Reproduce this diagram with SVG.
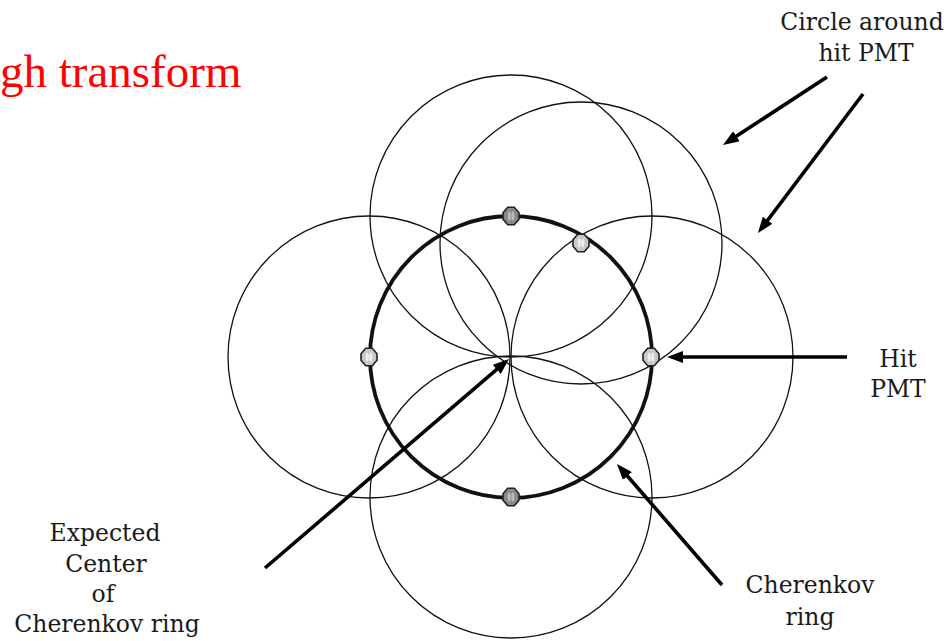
<svg xmlns="http://www.w3.org/2000/svg" xmlns:xlink="http://www.w3.org/1999/xlink" width="950" height="641" viewBox="0 0 950 641">
<style>
  .thin { fill: none; stroke: #111; stroke-width: 1.3; }
  .ring { fill: none; stroke: #111; stroke-width: 3.8; }
  .arrow { fill: none; stroke: #000; stroke-width: 3.6; marker-end: url(#ah); }
  .lbl { font-family: "DejaVu Serif", "Liberation Serif", serif; font-size: 23.5px; fill: #1a1a1a; text-anchor: middle; }
  .title { font-family: "Liberation Serif", "Times New Roman", serif; font-size: 47px; fill: #ff0000; text-anchor: start; }
  .pmtbody { stroke: #222; stroke-width: 1.6; }
</style>
<defs>
  <marker id="ah" viewBox="0 0 16 12" markerWidth="16" markerHeight="12" refX="8" refY="6" orient="auto" markerUnits="userSpaceOnUse">
    <path d="M0,0 L16,6 L0,12 z" fill="#000"/>
  </marker>
  <g id="pmtLight">
    <polygon class="pmtbody" fill="#c8c8c8" points="8,3.3 3.3,8.8 -3.3,8.8 -8,3.3 -8,-3.3 -3.3,-8.8 3.3,-8.8 8,-3.3"/>
    <ellipse cx="-1.8" cy="0" rx="1.6" ry="4.5" fill="#eee"/>
    <ellipse cx="1.8" cy="0" rx="1.6" ry="4.5" fill="#eee"/>
  </g>
  <g id="pmtDark">
    <polygon class="pmtbody" fill="#888" points="8,3.3 3.3,8.8 -3.3,8.8 -8,3.3 -8,-3.3 -3.3,-8.8 3.3,-8.8 8,-3.3"/>
    <ellipse cx="-1.8" cy="0" rx="1.5" ry="4.5" fill="#bbb"/>
    <ellipse cx="1.8" cy="0" rx="1.5" ry="4.5" fill="#bbb"/>
  </g>
</defs>
<rect width="950" height="641" fill="#fff"/>

<g id="title">
  <text class="title" x="0" y="87">gh transform</text>
</g>

<g id="hit-circles">
  <circle id="circle-top" class="thin" cx="511" cy="216" r="141"/>
  <circle id="circle-upper-right" class="thin" cx="581" cy="243" r="141"/>
  <circle id="circle-left" class="thin" cx="369" cy="357" r="141"/>
  <circle id="circle-right" class="thin" cx="652" cy="357" r="141"/>
  <circle id="circle-bottom" class="thin" cx="511" cy="497" r="141"/>
</g>

<g id="cherenkov-ring">
  <circle class="ring" cx="511" cy="357" r="141"/>
</g>

<g id="pmts">
  <g id="pmt-top"><use xlink:href="#pmtDark" x="511" y="216"/></g>
  <g id="pmt-upper-right"><use xlink:href="#pmtLight" x="581" y="243"/></g>
  <g id="pmt-left"><use xlink:href="#pmtLight" x="369" y="357"/></g>
  <g id="pmt-right"><use xlink:href="#pmtLight" x="651" y="357"/></g>
  <g id="pmt-bottom"><use xlink:href="#pmtDark" x="511" y="497"/></g>
</g>

<g id="connectors">
  <line class="arrow" x1="827" y1="77" x2="729.7" y2="140.6"/>
  <line class="arrow" x1="863" y1="94" x2="762.8" y2="226.6"/>
  <line class="arrow" x1="847" y1="357" x2="675" y2="357"/>
  <line class="arrow" x1="265" y1="568" x2="502.9" y2="364.2"/>
  <line class="arrow" x1="722" y1="585" x2="622.2" y2="470"/>
</g>

<g id="label-circle-around">
  <text class="lbl" x="862" y="30">Circle around</text>
  <text class="lbl" x="866" y="61">hit PMT</text>
</g>
<g id="label-hit-pmt">
  <text class="lbl" x="898" y="367">Hit</text>
  <text class="lbl" x="898" y="397">PMT</text>
</g>
<g id="label-expected-center">
  <text class="lbl" x="105" y="541">Expected</text>
  <text class="lbl" x="106" y="572">Center</text>
  <text class="lbl" x="103" y="602">of</text>
  <text class="lbl" x="107" y="632">Cherenkov ring</text>
</g>
<g id="label-cherenkov-ring">
  <text class="lbl" x="810" y="593">Cherenkov</text>
  <text class="lbl" x="810" y="625">ring</text>
</g>
</svg>
